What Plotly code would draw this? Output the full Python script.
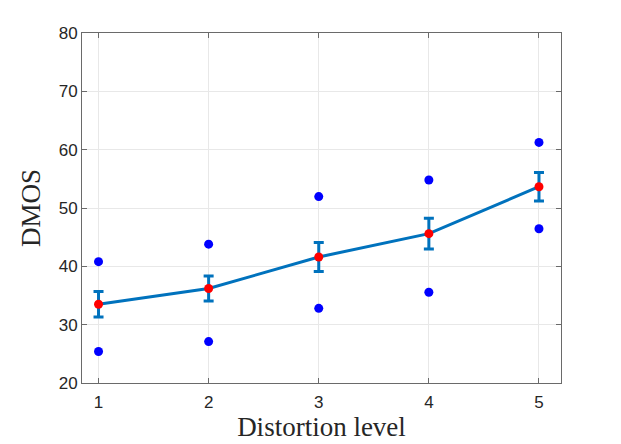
import plotly.graph_objects as go

# Distortion levels and DMOS stats
levels = [1, 2, 3, 4, 5]
mean_dmos = [33.5, 36.2, 41.6, 45.6, 53.65]
ci_dmos = [2.2, 2.15, 2.5, 2.65, 2.45]
high_dmos = [40.8, 43.8, 51.95, 54.8, 61.25]
low_dmos = [25.4, 27.1, 32.8, 35.55, 46.45]

LINE_BLUE = "#0072BD"
SANS = "Liberation Sans, Arial, sans-serif"
SERIF = "Liberation Serif, Times New Roman, serif"

fig = go.Figure()

# extreme points (two per level)
fig.add_trace(go.Scatter(
    x=levels + levels,
    y=high_dmos + low_dmos,
    mode="markers",
    marker=dict(color="#0000FF", size=9),
    showlegend=False,
))

# mean line with error bars
fig.add_trace(go.Scatter(
    x=levels,
    y=mean_dmos,
    mode="lines",
    line=dict(color=LINE_BLUE, width=3),
    error_y=dict(type="data", array=ci_dmos, visible=True,
                 color=LINE_BLUE, thickness=3, width=5),
    showlegend=False,
))

# mean markers
fig.add_trace(go.Scatter(
    x=levels,
    y=mean_dmos,
    mode="markers",
    marker=dict(color="#FF0000", size=9),
    showlegend=False,
))

axis_common = dict(
    showline=True,
    linecolor="#6a6a6a",
    linewidth=1,
    mirror="ticks",
    ticks="inside",
    ticklen=5,
    tickcolor="#6a6a6a",
    showgrid=True,
    gridcolor="#e8e8e8",
    gridwidth=1,
    zeroline=False,
    automargin=False,
    tickfont=dict(family=SANS, size=17, color="#262626"),
)

fig.update_xaxes(
    range=[0.85, 5.2],
    tickvals=levels,
    ticklabelstandoff=4,
    title=dict(text="Distortion level",
               font=dict(family=SERIF, size=27, color="#262626"),
               standoff=3),
    **axis_common,
)
fig.update_yaxes(
    range=[20, 80],
    dtick=10,
    title=dict(text="DMOS",
               font=dict(family=SERIF, size=27, color="#262626"),
               standoff=10),
    **axis_common,
)

# page body adds an 8px margin, so the figure is sized to fit the window
fig.update_layout(
    width=613,
    height=436,
    margin=dict(l=74, r=60, t=25, b=61),
    plot_bgcolor="white",
    paper_bgcolor="white",
    showlegend=False,
)

fig.write_html("out.html")
